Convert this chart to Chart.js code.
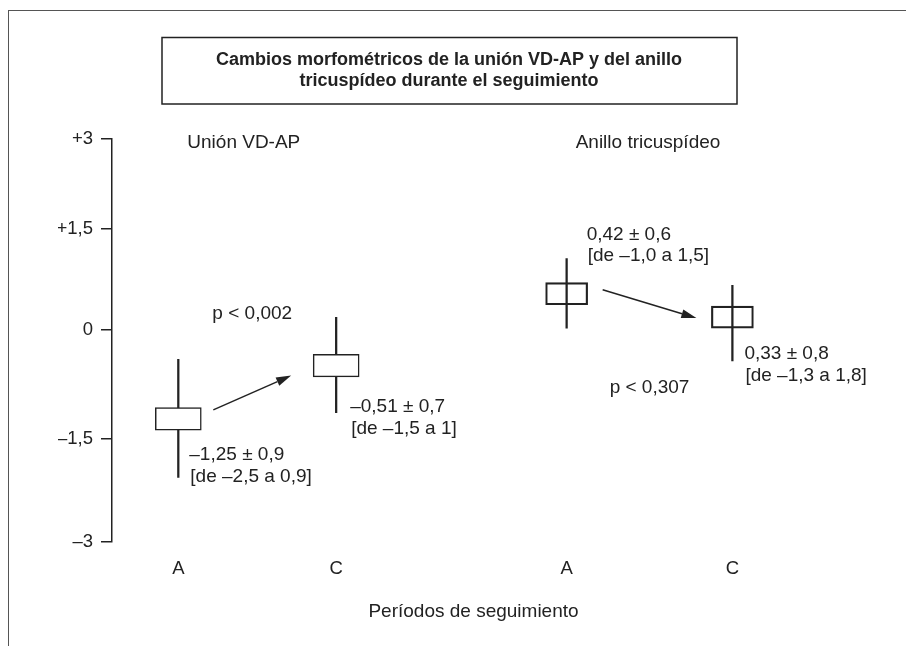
<!DOCTYPE html>
<html lang="es">
<head>
<meta charset="utf-8">
<title>Cambios morfométricos</title>
<script src="https://cdn.jsdelivr.net/npm/chart.js@4.4.1/dist/chart.umd.min.js"></script>
<style>
  html, body { margin: 0; padding: 0; background: #fff; }
  .wrap { position: relative; width: 906px; height: 646px; }
  .frame {
    position: absolute; left: 8px; top: 10px; right: 0; bottom: 0;
    border-top: 1.5px solid #555; border-left: 1.5px solid #555;
    pointer-events: none;
  }
</style>
</head>
<body>
<div class="wrap">
  <canvas id="chart" width="906" height="646"></canvas>
  <div class="frame"></div>
</div>
<script>
const chartTitle = [
  "Cambios morfométricos de la unión VD-AP y del anillo",
  "tricuspídeo durante el seguimiento",
];
const periodLabels = ["A", "C", "A", "C"];
const periodSlots = [1, 2, 3.46, 4.51];
const groupNames = ["Unión VD-AP", "Anillo tricuspídeo"];
const groupOf = [0, 0, 1, 1];

const boxLow = [-1.38, -0.65, 0.37, 0.02];
const boxHigh = [-1.07, -0.34, 0.70, 0.35];
const whiskerLow = [-2.06, -1.14, 0.02, -0.43];
const whiskerHigh = [-0.41, 0.18, 1.06, 0.66];

const meanSd = ["–1,25 ± 0,9", "–0,51 ± 0,7", "0,42 ± 0,6", "0,33 ± 0,8"];
const ranges = ["[de –2,5 a 0,9]", "[de –1,5 a 1]", "[de –1,0 a 1,5]", "[de –1,3 a 1,8]"];
const pValues = ["p < 0,002", "p < 0,307"];

const yTicks = [-3, -1.5, 0, 1.5, 3];
const yTickLabels = ["–3", "–1,5", "0", "+1,5", "+3"];
// the printed axis is not evenly spaced: where each tick sits (0 = bottom, 1 = top)
const yTickStops = [0, 0.255, 0.527, 0.776, 1];

const INK = "#222";
const FONT = '"Liberation Sans", Arial, sans-serif';

Chart.defaults.font.family = FONT;
Chart.defaults.color = INK;

// linear scale that follows the uneven tick spacing of the original figure
class SteppedScale extends Chart.LinearScale {
  getPixelForValue(value) {
    if (value === null || isNaN(value)) return NaN;
    let i = 0;
    while (i < yTicks.length - 2 && value > yTicks[i + 1]) i++;
    const t = (value - yTicks[i]) / (yTicks[i + 1] - yTicks[i]);
    return this.getPixelForDecimal(yTickStops[i] + t * (yTickStops[i + 1] - yTickStops[i]));
  }
}
SteppedScale.id = "stepped";
SteppedScale.defaults = Chart.LinearScale.defaults;
Chart.register(SteppedScale);

function pointsFor(indexes, low, high) {
  return indexes.map((i) => ({ x: periodSlots[i], y: [low[i], high[i]] }));
}

const unionIdx = [0, 1, 2, 3].filter((i) => groupOf[i] === 0);
const anilloIdx = [0, 1, 2, 3].filter((i) => groupOf[i] === 1);

// offsets of the notes from the box edge, in px
const notePlacement = [
  { dx: 11, dy: 25, edge: "low" },
  { dx: 14, dy: 30, edge: "low" },
  { dx: 20, dy: -48, edge: "high" },
  { dx: 12, dy: 26, edge: "low" },
];
const arrowPlacement = [
  { from: [35, -9], to: [-45, 10], pDy: -79 },
  { from: [36, -4], to: [-36, 1], pDy: 84 },
];

function drawArrow(ctx, x1, y1, x2, y2) {
  const ang = Math.atan2(y2 - y1, x2 - x1);
  const len = 15;
  const half = 4.5;
  const bx = x2 - len * Math.cos(ang);
  const by = y2 - len * Math.sin(ang);
  ctx.beginPath();
  ctx.moveTo(x1, y1);
  ctx.lineTo(bx, by);
  ctx.stroke();
  ctx.beginPath();
  ctx.moveTo(x2, y2);
  ctx.lineTo(bx + half * Math.sin(ang), by - half * Math.cos(ang));
  ctx.lineTo(bx - half * Math.sin(ang), by + half * Math.cos(ang));
  ctx.closePath();
  ctx.fill();
}

const annotations = {
  id: "annotations",
  afterDatasetsDraw(chart) {
    const { ctx, chartArea } = chart;
    const x = chart.scales.x;
    const y = chart.scales.y;
    ctx.save();
    ctx.fillStyle = INK;
    ctx.strokeStyle = INK;
    ctx.lineWidth = 1.5;
    ctx.font = `19px ${FONT}`;
    ctx.textBaseline = "middle";
    ctx.textAlign = "left";

    groupNames.forEach((name, g) => {
      const first = groupOf.indexOf(g);
      ctx.fillText(name, x.getPixelForValue(periodSlots[first]) + 9, chartArea.top + 4);
    });

    meanSd.forEach((text, i) => {
      const place = notePlacement[i];
      const edge = place.edge === "low" ? boxLow[i] : boxHigh[i];
      const px = x.getPixelForValue(periodSlots[i]) + place.dx;
      const py = y.getPixelForValue(edge) + place.dy;
      ctx.fillText(text, px, py);
      ctx.fillText(ranges[i], px + 1, py + 21.5);
    });

    pValues.forEach((text, g) => {
      const [a, c] = [0, 1, 2, 3].filter((i) => groupOf[i] === g);
      const place = arrowPlacement[g];
      const ax = x.getPixelForValue(periodSlots[a]) + place.from[0];
      const ay = y.getPixelForValue((boxLow[a] + boxHigh[a]) / 2) + place.from[1];
      const cx = x.getPixelForValue(periodSlots[c]) + place.to[0];
      const cy = y.getPixelForValue((boxLow[c] + boxHigh[c]) / 2) + place.to[1];
      drawArrow(ctx, ax, ay, cx, cy);
      ctx.textAlign = "center";
      ctx.fillText(text, (ax + cx) / 2, (ay + cy) / 2 + place.pDy);
      ctx.textAlign = "left";
    });
    ctx.restore();
  },
  afterDraw(chart) {
    const { ctx } = chart;
    ctx.save();
    ctx.strokeStyle = INK;
    ctx.lineWidth = 1.5;
    ctx.strokeRect(162, 37.5, 575, 66.5);
    ctx.fillStyle = INK;
    ctx.font = `bold 18px ${FONT}`;
    ctx.textAlign = "center";
    ctx.textBaseline = "middle";
    chartTitle.forEach((line, i) => ctx.fillText(line, 449, 60 + i * 21));
    ctx.restore();
  },
};

new Chart(document.getElementById("chart"), {
  type: "bar",
  data: {
    datasets: [
      {
        label: groupNames[0],
        data: pointsFor(unionIdx, boxLow, boxHigh),
        backgroundColor: "#fff",
        borderColor: INK,
        borderWidth: 1.5,
        borderSkipped: false,
        barThickness: 46,
        grouped: false,
        order: 0,
      },
      {
        label: groupNames[1],
        data: pointsFor(anilloIdx, boxLow, boxHigh),
        backgroundColor: "rgba(0,0,0,0)",
        borderColor: INK,
        borderWidth: 1.5,
        borderSkipped: false,
        barThickness: 42,
        grouped: false,
        order: 0,
      },
      {
        label: "rango",
        data: pointsFor([0, 1, 2, 3], whiskerLow, whiskerHigh),
        backgroundColor: INK,
        borderWidth: 0,
        barThickness: 1.6,
        grouped: false,
        order: 1,
      },
    ],
  },
  options: {
    responsive: false,
    animation: false,
    events: [],
    layout: { padding: { top: 139, left: 58, right: 71, bottom: 0 } },
    plugins: {
      legend: { display: false },
      tooltip: { enabled: false },
      title: { display: false },
    },
    scales: {
      x: {
        type: "linear",
        min: 0.58,
        max: 5.16,
        offset: false,
        grid: { display: false, drawTicks: false },
        border: { display: false },
        afterBuildTicks: (axis) => {
          axis.ticks = periodSlots.map((v) => ({ value: v }));
        },
        afterFit: (axis) => {
          axis.height = 104.3;
        },
        ticks: {
          callback: (value, index) => periodLabels[index],
          font: { size: 18.5 },
          padding: 16,
          autoSkip: false,
          maxRotation: 0,
        },
        title: {
          display: true,
          text: "Períodos de seguimiento",
          font: { size: 19 },
          padding: { top: 0, bottom: 23 },
        },
      },
      y: {
        type: "stepped",
        min: -3,
        max: 3,
        afterBuildTicks: (axis) => {
          axis.ticks = yTicks.map((v) => ({ value: v }));
        },
        afterFit: (axis) => {
          axis.width = 54;
        },
        ticks: {
          callback: (value) => yTickLabels[yTicks.indexOf(value)],
          font: { size: 18.5 },
          padding: 8,
        },
        grid: { drawOnChartArea: false, tickLength: 11, color: INK, lineWidth: 1.5 },
        border: { color: INK, width: 1.5 },
      },
    },
  },
  plugins: [annotations],
});
</script>
</body>
</html>
